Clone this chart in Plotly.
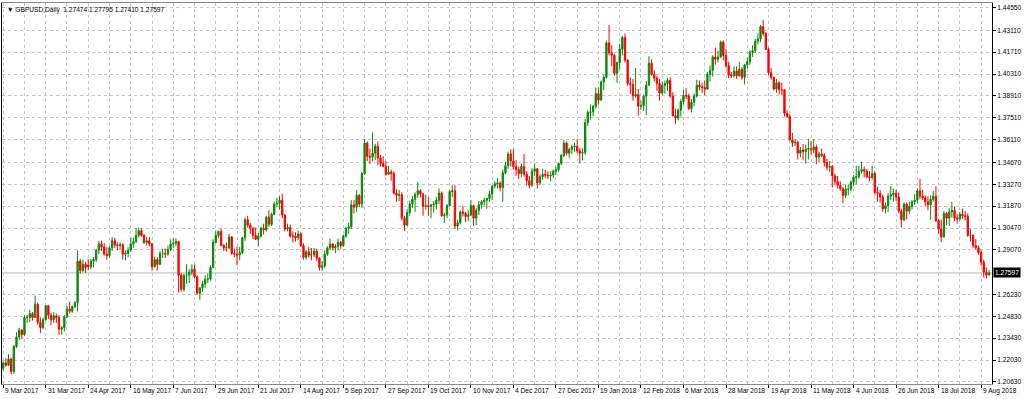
import plotly.graph_objects as go

# ---- GBPUSD Daily, 9 Mar 2017 .. 14 Aug 2018 (one value per trading day) ----
open_ = [
    # Mar 2017
    1.2150,1.2185,1.2170,1.2210,1.2130,1.2290,1.2350,1.2395,1.2365,1.2475,1.2475,1.2500,1.2475,1.2560,1.2445,1.2410,1.2460,
    # Apr 2017
    1.2550,1.2490,1.2460,1.2485,1.2475,1.2400,1.2410,1.2480,1.2530,1.2515,1.2545,1.2570,1.2835,1.2775,1.2815,1.2810,1.2800,1.2835,1.2845,1.2905,
    # May 2017
    1.2945,1.2925,1.2880,1.2870,1.2920,1.2965,1.2940,1.2935,1.2940,1.2880,1.2885,1.2905,1.2945,1.2960,1.3000,1.3030,1.3000,1.2955,1.2965,1.2945,1.2800,1.2845,1.2815,
    # Jun 2017
    1.2885,1.2885,1.2880,1.2910,1.2945,1.2950,1.2960,1.2745,1.2655,1.2745,1.2745,1.2765,1.2785,1.2735,1.2630,1.2665,1.2690,1.2720,1.2720,1.2795,1.2955,1.3000,
    # Jul 2017
    1.3025,1.2935,1.2920,1.2920,1.2990,1.2885,1.2880,1.2875,1.2890,1.2985,1.3100,1.3065,1.3045,1.3000,1.2975,1.2995,1.3045,1.3035,1.3115,1.3070,1.3135,
    # Aug 2017
    1.3200,1.3205,1.3225,1.3130,1.3040,1.3050,1.2995,1.2995,1.2985,1.3010,1.2935,1.2860,1.2895,1.2875,1.2875,1.2900,1.2855,1.2795,1.2805,1.2880,1.2920,1.2945,1.2920,
    # Sep 2017
    1.2930,1.2955,1.2935,1.2995,1.3045,1.3055,1.3195,1.3180,1.3255,1.3200,1.3395,1.3590,1.3505,1.3500,1.3525,1.3570,1.3495,1.3460,1.3440,1.3390,1.3405,
    # Oct 2017
    1.3395,1.3270,1.3255,1.3260,1.3110,1.3065,1.3145,1.3200,1.3230,1.3260,1.3285,1.3265,1.3185,1.3190,1.3185,1.3195,1.3200,1.3225,1.3270,1.3125,1.3130,1.3190,
    # Nov 2017
    1.3280,1.3285,1.3060,1.3080,1.3150,1.3140,1.3120,1.3130,1.3190,1.3110,1.3160,1.3195,1.3215,1.3225,1.3235,1.3265,1.3315,1.3330,1.3335,1.3305,1.3400,1.3445,
    # Dec 2017
    1.3520,1.3475,1.3440,1.3420,1.3395,1.3440,1.3390,1.3350,1.3320,1.3410,1.3425,1.3335,1.3375,1.3390,1.3385,1.3380,1.3385,1.3410,1.3420,1.3460,
    # Jan 2018
    1.3510,1.3590,1.3525,1.3550,1.3565,1.3570,1.3540,1.3525,1.3530,1.3720,1.3785,1.3790,1.3825,1.3905,1.3865,1.3980,1.4010,1.4230,1.4165,1.4150,1.4035,1.4105,
    # Feb 2018
    1.4190,1.4265,1.4120,1.3970,1.3965,1.3890,1.3900,1.3825,1.3830,1.3890,1.3960,1.4100,1.4030,1.4005,1.3970,1.3910,1.3960,1.3970,1.3990,1.3890,
    # Mar 2018
    1.3765,1.3750,1.3800,1.3855,1.3895,1.3890,1.3810,1.3850,1.3890,1.3960,1.3950,1.3945,1.3935,1.4030,1.4055,1.4140,1.4125,1.4140,1.4235,1.4150,1.4085,1.4025,
    # Apr 2018
    1.4020,1.4050,1.4020,1.4060,1.4010,1.4090,1.4110,1.4170,1.4180,1.4240,1.4255,1.4335,1.4290,1.4190,1.4040,1.4010,1.3935,1.3975,1.3930,1.3930,1.3780,
    # May 2018
    1.3760,1.3610,1.3590,1.3595,1.3525,1.3545,1.3535,1.3550,1.3555,1.3545,1.3565,1.3500,1.3520,1.3510,1.3465,1.3435,1.3440,1.3380,1.3345,1.3320,1.3300,1.3255,1.3295,
    # Jun 2018
    1.3295,1.3340,1.3370,1.3375,1.3410,1.3420,1.3410,1.3375,1.3370,1.3395,1.3275,1.3270,1.3245,1.3170,1.3190,1.3250,1.3260,1.3270,1.3245,1.3155,1.3100,
    # Jul 2018
    1.3200,1.3155,1.3185,1.3215,1.3225,1.3285,1.3250,1.3240,1.3215,1.3195,1.3230,1.3250,1.3095,1.3040,1.2990,1.3140,1.3110,1.3150,1.3160,1.3110,1.3105,1.3135,
    # Aug 2018
    1.3125,1.3120,1.3000,1.3000,1.2935,1.2920,1.2890,1.2830,1.2765,1.27474,
]

high = [
    1.2195,1.2215,1.2240,1.2220,1.2300,1.2380,1.2410,1.2400,1.2490,1.2490,1.2525,1.2510,1.2615,1.2570,1.2475,1.2475,1.2555,
    1.2555,1.2505,1.2510,1.2500,1.2490,1.2420,1.2490,1.2550,1.2575,1.2550,1.2580,1.2905,1.2850,1.2845,1.2830,1.2850,1.2850,1.2860,1.2915,1.2965,
    1.2965,1.2950,1.2925,1.2930,1.2990,1.2985,1.2955,1.2955,1.2950,1.2905,1.2925,1.2985,1.2985,1.3045,1.3050,1.3045,1.3010,1.2990,1.2990,1.2950,1.2865,1.2860,1.2900,
    1.2915,1.2915,1.2935,1.2975,1.2980,1.2980,1.2965,1.2760,1.2755,1.2815,1.2785,1.2815,1.2815,1.2745,1.2665,1.2710,1.2745,1.2755,1.2810,1.2975,1.3030,1.3030,
    1.3045,1.2945,1.2955,1.3010,1.2995,1.2915,1.2930,1.2925,1.2990,1.3115,1.3125,1.3080,1.3055,1.3050,1.3015,1.3055,1.3075,1.3125,1.3160,1.3145,1.3215,
    1.3240,1.3250,1.3267,1.3135,1.3075,1.3070,1.3025,1.3020,1.3030,1.3020,1.2950,1.2905,1.2925,1.2920,1.2920,1.2915,1.2860,1.2835,1.2905,1.2930,1.2980,1.2950,1.2945,
    1.2980,1.2965,1.3005,1.3055,1.3080,1.3225,1.3225,1.3290,1.3265,1.3405,1.3615,1.3600,1.3555,1.3657,1.3585,1.3600,1.3515,1.3505,1.3475,1.3445,1.3420,
    1.3410,1.3295,1.3290,1.3275,1.3125,1.3165,1.3220,1.3250,1.3275,1.3340,1.3295,1.3270,1.3260,1.3245,1.3200,1.3220,1.3245,1.3300,1.3280,1.3145,1.3200,1.3290,
    1.3320,1.3320,1.3100,1.3160,1.3190,1.3150,1.3160,1.3225,1.3195,1.3175,1.3220,1.3225,1.3240,1.3240,1.3285,1.3320,1.3345,1.3365,1.3345,1.3420,1.3470,1.3535,
    1.3550,1.3550,1.3480,1.3440,1.3460,1.3520,1.3410,1.3380,1.3430,1.3460,1.3430,1.3390,1.3425,1.3420,1.3410,1.3410,1.3420,1.3440,1.3465,1.3520,
    1.3610,1.3600,1.3560,1.3580,1.3590,1.3615,1.3560,1.3555,1.3745,1.3800,1.3835,1.3835,1.3945,1.3945,1.3990,1.4025,1.4245,1.4345,1.4215,1.4160,1.4110,1.4225,
    1.4275,1.4290,1.4125,1.4010,1.4000,1.4070,1.3935,1.3860,1.3900,1.3985,1.4145,1.4125,1.4055,1.4020,1.4000,1.3980,1.3990,1.4005,1.4010,1.3915,
    1.3810,1.3810,1.3870,1.3930,1.3940,1.3905,1.3870,1.3905,1.3995,1.3990,1.3975,1.3990,1.4045,1.4085,1.4150,1.4200,1.4180,1.4245,1.4245,1.4190,1.4110,1.4045,
    1.4080,1.4080,1.4110,1.4075,1.4095,1.4135,1.4185,1.4215,1.4255,1.4290,1.4345,1.4377,1.4300,1.4200,1.4070,1.4015,1.4000,1.3985,1.3975,1.3935,1.3800,
    1.3775,1.3655,1.3615,1.3605,1.3565,1.3585,1.3580,1.3615,1.3605,1.3615,1.3580,1.3535,1.3555,1.3525,1.3490,1.3475,1.3450,1.3395,1.3380,1.3345,1.3310,1.3325,1.3325,
    1.3350,1.3385,1.3445,1.3445,1.3470,1.3440,1.3425,1.3410,1.3445,1.3410,1.3310,1.3290,1.3260,1.3210,1.3270,1.3315,1.3300,1.3290,1.3275,1.3170,1.3210,
    1.3210,1.3215,1.3225,1.3265,1.3300,1.3362,1.3290,1.3255,1.3250,1.3255,1.3285,1.3315,1.3105,1.3100,1.3155,1.3150,1.3175,1.3215,1.3185,1.3135,1.3150,1.3170,
    1.3155,1.3140,1.3040,1.3005,1.2975,1.2935,1.2905,1.2845,1.2795,1.27795,
]

low = [
    1.2135,1.2160,1.2165,1.2110,1.2115,1.2280,1.2330,1.2340,1.2355,1.2440,1.2445,1.2455,1.2475,1.2430,1.2375,1.2400,1.2455,
    1.2465,1.2425,1.2440,1.2440,1.2365,1.2365,1.2385,1.2470,1.2500,1.2505,1.2535,1.2515,1.2755,1.2765,1.2760,1.2780,1.2785,1.2795,1.2830,1.2880,
    1.2900,1.2870,1.2845,1.2855,1.2900,1.2920,1.2905,1.2910,1.2845,1.2840,1.2860,1.2895,1.2920,1.2950,1.2985,1.2990,1.2945,1.2935,1.2930,1.2775,1.2795,1.2775,1.2810,
    1.2855,1.2855,1.2870,1.2900,1.2920,1.2930,1.2635,1.2640,1.2640,1.2690,1.2695,1.2745,1.2725,1.2620,1.2590,1.2640,1.2665,1.2695,1.2710,1.2790,1.2950,1.2985,
    1.2930,1.2900,1.2895,1.2910,1.2875,1.2860,1.2810,1.2840,1.2880,1.2965,1.3050,1.3010,1.2975,1.2970,1.2930,1.2985,1.3005,1.3025,1.3055,1.3060,1.3130,
    1.3180,1.3165,1.3110,1.3025,1.3025,1.2985,1.2955,1.2960,1.2970,1.2925,1.2845,1.2845,1.2860,1.2840,1.2860,1.2835,1.2775,1.2775,1.2790,1.2870,1.2905,1.2905,1.2885,
    1.2905,1.2915,1.2925,1.2985,1.3010,1.3040,1.3140,1.3150,1.3180,1.3175,1.3385,1.3475,1.3455,1.3475,1.3480,1.3450,1.3440,1.3435,1.3380,1.3385,1.3350,
    1.3260,1.3215,1.3220,1.3095,1.3027,1.3060,1.3125,1.3175,1.3150,1.3240,1.3240,1.3125,1.3165,1.3125,1.3110,1.3145,1.3165,1.3200,1.3120,1.3080,1.3110,1.3185,
    1.3245,1.3040,1.3030,1.3070,1.3120,1.3085,1.3090,1.3125,1.3060,1.3065,1.3130,1.3170,1.3190,1.3170,1.3215,1.3225,1.3300,1.3300,1.3280,1.3215,1.3390,1.3425,
    1.3440,1.3420,1.3380,1.3360,1.3370,1.3375,1.3320,1.3300,1.3310,1.3380,1.3300,1.3320,1.3355,1.3365,1.3360,1.3345,1.3365,1.3385,1.3405,1.3450,
    1.3500,1.3510,1.3495,1.3520,1.3535,1.3525,1.3460,1.3480,1.3515,1.3700,1.3740,1.3760,1.3810,1.3835,1.3860,1.3930,1.4000,1.4150,1.4080,1.4020,1.3975,1.4060,
    1.4150,1.4105,1.3955,1.3905,1.3860,1.3880,1.3765,1.3800,1.3795,1.3770,1.3955,1.4020,1.3985,1.3925,1.3860,1.3895,1.3905,1.3925,1.3880,1.3760,
    1.3712,1.3735,1.3760,1.3835,1.3870,1.3800,1.3785,1.3825,1.3880,1.3925,1.3910,1.3895,1.3930,1.3985,1.4015,1.4090,1.4105,1.4135,1.4120,1.4070,1.4005,1.4005,
    1.4010,1.4000,1.4015,1.3995,1.3965,1.4065,1.4090,1.4140,1.4165,1.4220,1.4235,1.4275,1.4185,1.4025,1.3995,1.3925,1.3910,1.3900,1.3895,1.3760,1.3750,
    1.3605,1.3565,1.3570,1.3485,1.3500,1.3480,1.3460,1.3485,1.3515,1.3525,1.3455,1.3470,1.3500,1.3440,1.3415,1.3405,1.3305,1.3320,1.3300,1.3285,1.3205,1.3240,1.3255,
    1.3280,1.3315,1.3325,1.3360,1.3395,1.3370,1.3365,1.3345,1.3355,1.3260,1.3215,1.3210,1.3150,1.3140,1.3150,1.3225,1.3215,1.3220,1.3140,1.3050,1.3090,
    1.3100,1.3135,1.3165,1.3195,1.3205,1.3230,1.3225,1.3185,1.3160,1.3100,1.3215,1.3085,1.3010,1.2957,1.2985,1.3065,1.3060,1.3115,1.3090,1.3075,1.3095,1.3105,
    1.3095,1.2990,1.2960,1.2920,1.2910,1.2875,1.2805,1.2730,1.2725,1.27410,
]

close = [
    1.2185,1.2170,1.2210,1.2130,1.2290,1.2350,1.2395,1.2365,1.2475,1.2475,1.2500,1.2475,1.2560,1.2445,1.2410,1.2460,1.2550,
    1.2490,1.2460,1.2485,1.2475,1.2400,1.2410,1.2480,1.2530,1.2515,1.2545,1.2570,1.2835,1.2775,1.2815,1.2795,1.2800,1.2835,1.2845,1.2905,1.2945,
    1.2925,1.2880,1.2870,1.2920,1.2965,1.2940,1.2935,1.2940,1.2880,1.2885,1.2905,1.2945,1.2960,1.3000,1.3030,1.3000,1.2955,1.2965,1.2945,1.2800,1.2845,1.2815,1.2885,
    1.2885,1.2880,1.2910,1.2945,1.2950,1.2960,1.2745,1.2655,1.2745,1.2745,1.2765,1.2780,1.2735,1.2630,1.2665,1.2690,1.2720,1.2720,1.2795,1.2955,1.3000,1.3025,
    1.2935,1.2920,1.2920,1.2990,1.2885,1.2880,1.2875,1.2890,1.2985,1.3100,1.3065,1.3045,1.3000,1.2975,1.2995,1.3045,1.3035,1.3115,1.3070,1.3135,1.3200,
    1.3205,1.3225,1.3130,1.3040,1.3050,1.2995,1.2995,1.2985,1.3010,1.2935,1.2860,1.2895,1.2875,1.2875,1.2900,1.2855,1.2795,1.2805,1.2880,1.2920,1.2945,1.2920,1.2930,
    1.2955,1.2935,1.2995,1.3045,1.3055,1.3195,1.3180,1.3255,1.3200,1.3395,1.3590,1.3505,1.3500,1.3525,1.3570,1.3495,1.3460,1.3440,1.3390,1.3405,1.3395,
    1.3270,1.3255,1.3260,1.3110,1.3065,1.3145,1.3200,1.3230,1.3260,1.3285,1.3265,1.3185,1.3190,1.3185,1.3195,1.3200,1.3225,1.3270,1.3125,1.3130,1.3190,1.3280,
    1.3285,1.3060,1.3080,1.3150,1.3140,1.3120,1.3130,1.3190,1.3110,1.3160,1.3195,1.3215,1.3225,1.3235,1.3265,1.3315,1.3330,1.3335,1.3305,1.3400,1.3445,1.3520,
    1.3475,1.3440,1.3420,1.3395,1.3440,1.3390,1.3350,1.3320,1.3410,1.3425,1.3335,1.3375,1.3390,1.3385,1.3380,1.3385,1.3410,1.3420,1.3460,1.3510,
    1.3590,1.3525,1.3550,1.3565,1.3570,1.3540,1.3525,1.3530,1.3720,1.3785,1.3790,1.3825,1.3905,1.3865,1.3980,1.4010,1.4230,1.4165,1.4150,1.4035,1.4105,1.4190,
    1.4265,1.4120,1.3970,1.3965,1.3890,1.3900,1.3825,1.3830,1.3890,1.3960,1.4100,1.4030,1.4005,1.3970,1.3910,1.3960,1.3970,1.3990,1.3890,1.3765,
    1.3750,1.3800,1.3855,1.3895,1.3890,1.3810,1.3850,1.3890,1.3960,1.3950,1.3945,1.3935,1.4030,1.4055,1.4140,1.4125,1.4140,1.4235,1.4150,1.4085,1.4025,1.4020,
    1.4050,1.4020,1.4060,1.4010,1.4090,1.4110,1.4170,1.4180,1.4240,1.4255,1.4335,1.4290,1.4190,1.4040,1.4010,1.3935,1.3975,1.3930,1.3930,1.3780,1.3760,
    1.3610,1.3590,1.3595,1.3525,1.3545,1.3535,1.3550,1.3555,1.3545,1.3565,1.3500,1.3520,1.3510,1.3465,1.3435,1.3440,1.3380,1.3345,1.3320,1.3300,1.3255,1.3295,1.3295,
    1.3340,1.3370,1.3375,1.3410,1.3420,1.3410,1.3375,1.3370,1.3395,1.3275,1.3270,1.3245,1.3170,1.3190,1.3250,1.3260,1.3270,1.3245,1.3155,1.3100,1.3200,
    1.3155,1.3185,1.3215,1.3225,1.3285,1.3250,1.3240,1.3215,1.3195,1.3230,1.3250,1.3095,1.3040,1.2990,1.3140,1.3110,1.3150,1.3160,1.3110,1.3105,1.3135,1.3125,
    1.3120,1.3000,1.3000,1.2935,1.2920,1.2890,1.2830,1.2765,1.2747,1.27597,
]

date_labels = ["9 Mar 2017", "31 Mar 2017", "24 Apr 2017", "16 May 2017", "7 Jun 2017",
               "29 Jun 2017", "21 Jul 2017", "14 Aug 2017", "5 Sep 2017", "27 Sep 2017",
               "19 Oct 2017", "10 Nov 2017", "4 Dec 2017", "27 Dec 2017", "19 Jan 2018",
               "12 Feb 2018", "6 Mar 2018", "28 Mar 2018", "19 Apr 2018", "11 May 2018",
               "4 Jun 2018", "26 Jun 2018", "18 Jul 2018", "9 Aug 2018"]
label_step = 16  # trading days between date labels

price_ticks = [1.20630, 1.22030, 1.23430, 1.24830, 1.26230, 1.29070, 1.30470, 1.31870,
               1.33270, 1.34670, 1.36110, 1.37510, 1.38910, 1.40310, 1.41710, 1.43110, 1.44550]

symbol = "GBPUSD,Daily"
bid = close[-1]

n = len(close)
assert len(open_) == n and len(high) == n and len(low) == n, (len(open_), len(high), len(low), n)
bars = list(range(n))

GREEN = "#0b880b"
RED = "#ff0000"
GRID = "#c6c6c6"
FONT = "Liberation Sans"
FS = 6.6

fig = go.Figure(go.Candlestick(
    x=bars, open=open_, high=high, low=low, close=close,
    increasing=dict(line=dict(color=GREEN, width=1), fillcolor=GREEN),
    decreasing=dict(line=dict(color=RED, width=1), fillcolor=RED),
    whiskerwidth=0, showlegend=False, hoverinfo="skip",
))

label_pos = [k * label_step for k in range(len(date_labels))]

fig.update_layout(
    width=1024, height=399,
    margin=dict(l=2, r=32, t=3, b=15),
    paper_bgcolor="white", plot_bgcolor="white",
    font=dict(family=FONT, size=FS, color="#000000"),
    xaxis=dict(
        range=[-0.45, 372.1], rangeslider=dict(visible=False),
        tickmode="array", tickvals=label_pos, showticklabels=False,
        ticks="outside", ticklen=3, tickcolor="#000000",
        showgrid=True, gridcolor=GRID, griddash="3px,3px", gridwidth=1,
        minor=dict(dtick=8, tick0=0, showgrid=True, gridcolor=GRID,
                   griddash="3px,3px", ticks=""),
        showline=True, linecolor="#8a8a8a", mirror=True, zeroline=False,
        fixedrange=True,
    ),
    yaxis=dict(
        range=[1.2050, 1.4485], side="right",
        tickmode="array", tickvals=price_ticks,
        ticktext=[f"{v:.5f}" for v in price_ticks],
        ticks="outside", ticklen=3, tickcolor="#000000",
        tickfont=dict(family=FONT, size=FS, color="#000000"),
        showgrid=True, gridcolor=GRID, griddash="3px,3px", gridwidth=1,
        showline=True, linecolor="#000000", mirror=True, zeroline=False,
        fixedrange=True,
    ),
)

# bid line
fig.add_shape(type="line", xref="paper", yref="y", x0=0, x1=1, y0=bid, y1=bid,
              line=dict(color="#b4b4b4", width=1), layer="below")

# date labels, left-aligned at their tick like the terminal
for pos, txt in zip(label_pos, date_labels):
    fig.add_annotation(x=pos, y=0, xref="x", yref="paper", text=txt,
                       showarrow=False, xanchor="left", yanchor="top",
                       xshift=0, yshift=-1,
                       font=dict(family=FONT, size=FS, color="#000000"))

# current price box
fig.add_annotation(x=1, y=bid, xref="paper", yref="y", text=f"{bid:.5f}",
                   showarrow=False, xanchor="left", yanchor="middle", xshift=1,
                   bgcolor="#000000", borderpad=1,
                   font=dict(family=FONT, size=FS, color="#ffffff"))

# chart caption
fig.add_annotation(x=0, y=1, xref="paper", yref="paper",
                   text=f"\u25bc {symbol}  {open_[-1]:.5f} {high[-1]:.5f} {low[-1]:.5f} {close[-1]:.5f}",
                   showarrow=False, xanchor="left", yanchor="top", xshift=3, yshift=-1,
                   font=dict(family=FONT, size=FS, color="#000000"))

fig.write_html("out.html", config={"displayModeBar": False},
               post_script="document.body.style.margin='0';document.body.style.overflow='hidden';")
